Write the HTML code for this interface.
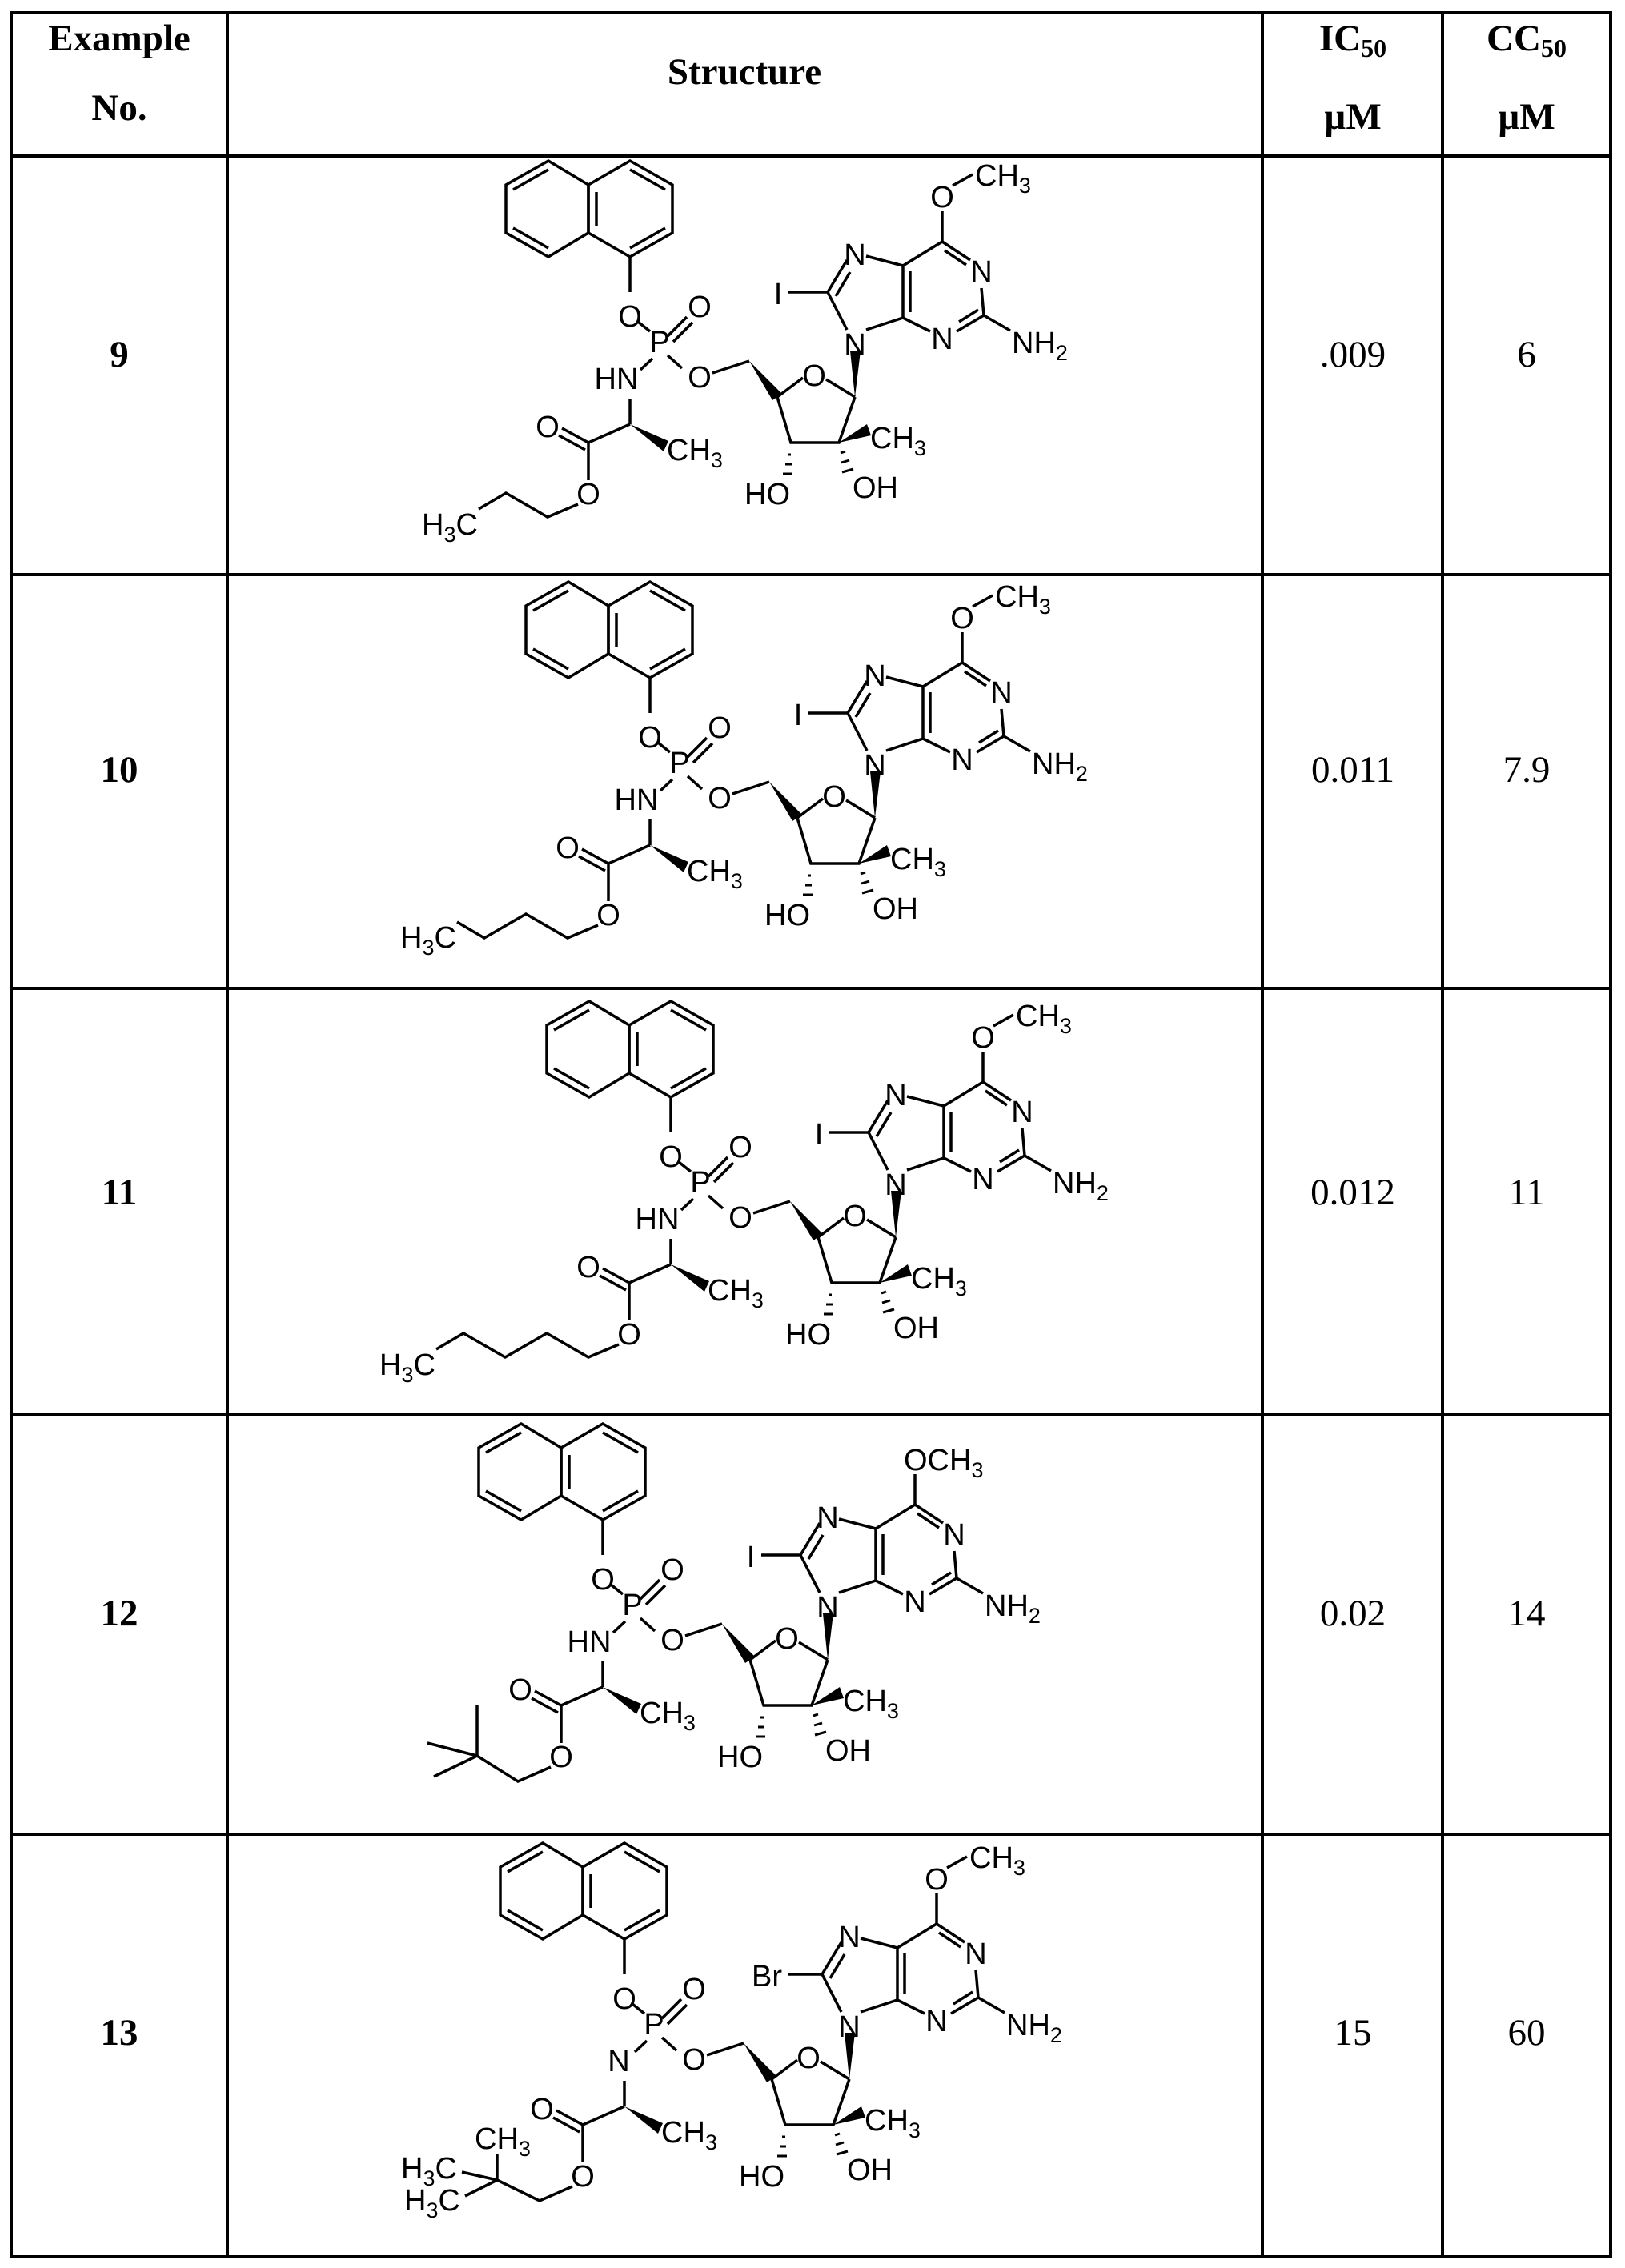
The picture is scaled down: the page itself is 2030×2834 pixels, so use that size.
<!DOCTYPE html>
<html><head><meta charset="utf-8"><style>
html,body{margin:0;padding:0;background:#fff;}
svg{display:block;}
.t{font-family:"Liberation Serif",serif;font-size:47px;text-anchor:middle;fill:#000;}
.b{font-weight:bold;}
.m{font-family:"Liberation Sans",sans-serif;font-size:38px;fill:#000;}
.c{text-anchor:middle;}
.e{text-anchor:end;}
</style></head><body>
<svg width="2030" height="2834" viewBox="0 0 2030 2834" xmlns="http://www.w3.org/2000/svg">
<g stroke="#000" stroke-width="4" fill="none">
<rect x="14" y="16" width="1998" height="2804"/>
<line x1="284" y1="16" x2="284" y2="2820"/><line x1="1577" y1="16" x2="1577" y2="2820"/><line x1="1802" y1="16" x2="1802" y2="2820"/>
<line x1="14" y1="195" x2="2012" y2="195"/><line x1="14" y1="718" x2="2012" y2="718"/><line x1="14" y1="1235" x2="2012" y2="1235"/><line x1="14" y1="1768" x2="2012" y2="1768"/><line x1="14" y1="2292" x2="2012" y2="2292"/>
</g>
<text class="t b" x="149" y="63">Example</text><text class="t b" x="149" y="150">No.</text>
<text class="t b" x="930" y="105">Structure</text>
<text class="t b" x="1690" y="63">IC<tspan font-size="32" dy="8">50</tspan></text><text class="t b" x="1690" y="161">µM</text>
<text class="t b" x="1907" y="63">CC<tspan font-size="32" dy="8">50</tspan></text><text class="t b" x="1907" y="161">µM</text>
<text class="t b" x="149" y="458">9</text><text class="t" x="1690" y="458">.009</text><text class="t" x="1907" y="458">6</text>
<text class="t b" x="149" y="977">10</text><text class="t" x="1690" y="977">0.011</text><text class="t" x="1907" y="977">7.9</text>
<text class="t b" x="149" y="1505">11</text><text class="t" x="1690" y="1505">0.012</text><text class="t" x="1907" y="1505">11</text>
<text class="t b" x="149" y="2031">12</text><text class="t" x="1690" y="2031">0.02</text><text class="t" x="1907" y="2031">14</text>
<text class="t b" x="149" y="2555">13</text><text class="t" x="1690" y="2555">15</text><text class="t" x="1907" y="2555">60</text>

<!-- ROW 9 -->
<g transform="translate(0,0)">
<g stroke="#000" stroke-width="3.5" fill="none">
<polygon points="685,201 735,231 735,291 685,321 632,291 632,231"/><polygon points="787,201 840,231 840,291 787,321 735,291 735,231"/>
<line x1="641" y1="237" x2="685" y2="212"/><line x1="641" y1="285" x2="685" y2="310"/><line x1="745" y1="240" x2="745" y2="282"/><line x1="787" y1="212" x2="831" y2="237"/><line x1="831" y1="285" x2="787" y2="310"/>
<line x1="787" y1="321" x2="787" y2="365"/><line x1="797" y1="402" x2="812" y2="414"/>
<line x1="834" y1="420" x2="858" y2="396"/><line x1="841" y1="427" x2="865" y2="403"/>
<line x1="834" y1="444" x2="852" y2="460"/><line x1="890" y1="466" x2="936" y2="451"/>
<line x1="815" y1="448" x2="800" y2="462"/><line x1="787" y1="498" x2="787" y2="530"/>
<line x1="971" y1="496" x2="1003" y2="472"/><line x1="1032" y1="474" x2="1068" y2="496"/><polyline points="1068,496 1048,553 988,553 971,496"/>
<line x1="1058" y1="412" x2="1034" y2="365"/><line x1="1034" y1="365" x2="1058" y2="325"/><line x1="1044" y1="370" x2="1062" y2="340"/>
<line x1="1082" y1="320" x2="1128" y2="332"/><line x1="1128" y1="332" x2="1128" y2="397"/><line x1="1137" y1="339" x2="1137" y2="390"/><line x1="1128" y1="397" x2="1082" y2="412"/>
<line x1="1128" y1="332" x2="1177" y2="302"/><line x1="1177" y1="302" x2="1177" y2="264"/>
<line x1="1177" y1="302" x2="1212" y2="325"/><line x1="1180" y1="313" x2="1207" y2="331"/><line x1="1226" y1="360" x2="1229" y2="394"/>
<line x1="1229" y1="394" x2="1195" y2="414"/><line x1="1222" y1="387" x2="1198" y2="402"/><line x1="1162" y1="414" x2="1128" y2="397"/><line x1="1229" y1="394" x2="1262" y2="413"/>
<line x1="787" y1="530" x2="735" y2="553"/><line x1="735" y1="553" x2="702" y2="535"/><line x1="731" y1="562" x2="698" y2="544"/><line x1="735" y1="553" x2="735" y2="600"/>
<line x1="988" y1="568" x2="984" y2="568" stroke-width="3"/><line x1="989" y1="580" x2="981" y2="580" stroke-width="3"/><line x1="990" y1="592" x2="978" y2="592" stroke-width="3"/>
<line x1="1050" y1="566" x2="1056" y2="564" stroke-width="3"/><line x1="1051" y1="578" x2="1061" y2="575" stroke-width="3"/><line x1="1052" y1="590" x2="1066" y2="586" stroke-width="3"/>
</g>
<g fill="#000"><polygon points="936,451 977,492 965,500"/><polygon points="1068,496 1062,438 1075,438"/><polygon points="1048,553 1083,530 1088,544"/><polygon points="787,530 835,551 829,564"/></g>
<text class="m c" x="787" y="408">O</text><text class="m c" x="824" y="440">P</text><text class="m c" x="874" y="396">O</text><text class="m c" x="874" y="484">O</text>
<text class="m c" x="1068" y="443">N</text><text class="m c" x="1068" y="331">N</text><text class="m c" x="1226" y="352">N</text><text class="m c" x="1177" y="436">N</text>
<text class="m c" x="1017" y="482">O</text><text class="m" x="1087" y="560">CH<tspan font-size="27" dy="9">3</tspan></text>
<text class="m" x="930" y="630">HO</text><text class="m" x="1065" y="622">OH</text>
<text class="m" x="1264" y="441">NH<tspan font-size="27" dy="9">2</tspan></text>
<text class="m" x="833" y="575">CH<tspan font-size="27" dy="9">3</tspan></text>
<text class="m c" x="684" y="546">O</text><text class="m c" x="735" y="630">O</text>
</g>
<g stroke="#000" stroke-width="3.5" fill="none">
<line x1="1190" y1="232" x2="1215" y2="218"/><line x1="985" y1="365" x2="1034" y2="365"/><polyline points="722,630 684,646 632,616 598,636"/>
</g>
<text class="m c" x="1177" y="259">O</text><text class="m" x="1218" y="232">CH<tspan font-size="27" dy="9">3</tspan></text>
<text class="m c" x="972" y="380">I</text><text class="m c" x="770" y="486">HN</text>
<text class="m" x="527" y="668">H<tspan font-size="27" dy="9">3</tspan><tspan dy="-9">C</tspan></text>

<!-- ROW 10 -->
<g transform="translate(25,526)">
<g stroke="#000" stroke-width="3.5" fill="none">
<polygon points="685,201 735,231 735,291 685,321 632,291 632,231"/><polygon points="787,201 840,231 840,291 787,321 735,291 735,231"/>
<line x1="641" y1="237" x2="685" y2="212"/><line x1="641" y1="285" x2="685" y2="310"/><line x1="745" y1="240" x2="745" y2="282"/><line x1="787" y1="212" x2="831" y2="237"/><line x1="831" y1="285" x2="787" y2="310"/>
<line x1="787" y1="321" x2="787" y2="365"/><line x1="797" y1="402" x2="812" y2="414"/>
<line x1="834" y1="420" x2="858" y2="396"/><line x1="841" y1="427" x2="865" y2="403"/>
<line x1="834" y1="444" x2="852" y2="460"/><line x1="890" y1="466" x2="936" y2="451"/>
<line x1="815" y1="448" x2="800" y2="462"/><line x1="787" y1="498" x2="787" y2="530"/>
<line x1="971" y1="496" x2="1003" y2="472"/><line x1="1032" y1="474" x2="1068" y2="496"/><polyline points="1068,496 1048,553 988,553 971,496"/>
<line x1="1058" y1="412" x2="1034" y2="365"/><line x1="1034" y1="365" x2="1058" y2="325"/><line x1="1044" y1="370" x2="1062" y2="340"/>
<line x1="1082" y1="320" x2="1128" y2="332"/><line x1="1128" y1="332" x2="1128" y2="397"/><line x1="1137" y1="339" x2="1137" y2="390"/><line x1="1128" y1="397" x2="1082" y2="412"/>
<line x1="1128" y1="332" x2="1177" y2="302"/><line x1="1177" y1="302" x2="1177" y2="264"/>
<line x1="1177" y1="302" x2="1212" y2="325"/><line x1="1180" y1="313" x2="1207" y2="331"/><line x1="1226" y1="360" x2="1229" y2="394"/>
<line x1="1229" y1="394" x2="1195" y2="414"/><line x1="1222" y1="387" x2="1198" y2="402"/><line x1="1162" y1="414" x2="1128" y2="397"/><line x1="1229" y1="394" x2="1262" y2="413"/>
<line x1="787" y1="530" x2="735" y2="553"/><line x1="735" y1="553" x2="702" y2="535"/><line x1="731" y1="562" x2="698" y2="544"/><line x1="735" y1="553" x2="735" y2="600"/>
<line x1="988" y1="568" x2="984" y2="568" stroke-width="3"/><line x1="989" y1="580" x2="981" y2="580" stroke-width="3"/><line x1="990" y1="592" x2="978" y2="592" stroke-width="3"/>
<line x1="1050" y1="566" x2="1056" y2="564" stroke-width="3"/><line x1="1051" y1="578" x2="1061" y2="575" stroke-width="3"/><line x1="1052" y1="590" x2="1066" y2="586" stroke-width="3"/>
<line x1="1190" y1="232" x2="1215" y2="218"/><line x1="985" y1="365" x2="1034" y2="365"/><polyline points="722,630 684,646 632,616 580,646 546,626"/>
</g>
<g fill="#000"><polygon points="936,451 977,492 965,500"/><polygon points="1068,496 1062,438 1075,438"/><polygon points="1048,553 1083,530 1088,544"/><polygon points="787,530 835,551 829,564"/></g>
<text class="m c" x="787" y="408">O</text><text class="m c" x="824" y="440">P</text><text class="m c" x="874" y="396">O</text><text class="m c" x="874" y="484">O</text>
<text class="m c" x="1068" y="443">N</text><text class="m c" x="1068" y="331">N</text><text class="m c" x="1226" y="352">N</text><text class="m c" x="1177" y="436">N</text>
<text class="m c" x="1017" y="482">O</text><text class="m" x="1087" y="560">CH<tspan font-size="27" dy="9">3</tspan></text>
<text class="m" x="930" y="630">HO</text><text class="m" x="1065" y="622">OH</text>
<text class="m" x="1264" y="441">NH<tspan font-size="27" dy="9">2</tspan></text>
<text class="m" x="833" y="575">CH<tspan font-size="27" dy="9">3</tspan></text>
<text class="m c" x="684" y="546">O</text><text class="m c" x="735" y="630">O</text>
<text class="m c" x="1177" y="259">O</text><text class="m" x="1218" y="232">CH<tspan font-size="27" dy="9">3</tspan></text>
<text class="m c" x="972" y="380">I</text><text class="m c" x="770" y="486">HN</text>
<text class="m" x="475" y="658">H<tspan font-size="27" dy="9">3</tspan><tspan dy="-9">C</tspan></text>
</g>

<!-- ROW 11 -->
<g transform="translate(51,1050)">
<g stroke="#000" stroke-width="3.5" fill="none">
<polygon points="685,201 735,231 735,291 685,321 632,291 632,231"/><polygon points="787,201 840,231 840,291 787,321 735,291 735,231"/>
<line x1="641" y1="237" x2="685" y2="212"/><line x1="641" y1="285" x2="685" y2="310"/><line x1="745" y1="240" x2="745" y2="282"/><line x1="787" y1="212" x2="831" y2="237"/><line x1="831" y1="285" x2="787" y2="310"/>
<line x1="787" y1="321" x2="787" y2="365"/><line x1="797" y1="402" x2="812" y2="414"/>
<line x1="834" y1="420" x2="858" y2="396"/><line x1="841" y1="427" x2="865" y2="403"/>
<line x1="834" y1="444" x2="852" y2="460"/><line x1="890" y1="466" x2="936" y2="451"/>
<line x1="815" y1="448" x2="800" y2="462"/><line x1="787" y1="498" x2="787" y2="530"/>
<line x1="971" y1="496" x2="1003" y2="472"/><line x1="1032" y1="474" x2="1068" y2="496"/><polyline points="1068,496 1048,553 988,553 971,496"/>
<line x1="1058" y1="412" x2="1034" y2="365"/><line x1="1034" y1="365" x2="1058" y2="325"/><line x1="1044" y1="370" x2="1062" y2="340"/>
<line x1="1082" y1="320" x2="1128" y2="332"/><line x1="1128" y1="332" x2="1128" y2="397"/><line x1="1137" y1="339" x2="1137" y2="390"/><line x1="1128" y1="397" x2="1082" y2="412"/>
<line x1="1128" y1="332" x2="1177" y2="302"/><line x1="1177" y1="302" x2="1177" y2="264"/>
<line x1="1177" y1="302" x2="1212" y2="325"/><line x1="1180" y1="313" x2="1207" y2="331"/><line x1="1226" y1="360" x2="1229" y2="394"/>
<line x1="1229" y1="394" x2="1195" y2="414"/><line x1="1222" y1="387" x2="1198" y2="402"/><line x1="1162" y1="414" x2="1128" y2="397"/><line x1="1229" y1="394" x2="1262" y2="413"/>
<line x1="787" y1="530" x2="735" y2="553"/><line x1="735" y1="553" x2="702" y2="535"/><line x1="731" y1="562" x2="698" y2="544"/><line x1="735" y1="553" x2="735" y2="600"/>
<line x1="988" y1="568" x2="984" y2="568" stroke-width="3"/><line x1="989" y1="580" x2="981" y2="580" stroke-width="3"/><line x1="990" y1="592" x2="978" y2="592" stroke-width="3"/>
<line x1="1050" y1="566" x2="1056" y2="564" stroke-width="3"/><line x1="1051" y1="578" x2="1061" y2="575" stroke-width="3"/><line x1="1052" y1="590" x2="1066" y2="586" stroke-width="3"/>
<line x1="1190" y1="232" x2="1215" y2="218"/><line x1="985" y1="365" x2="1034" y2="365"/><polyline points="722,630 684,646 632,616 580,646 528,616 494,636"/>
</g>
<g fill="#000"><polygon points="936,451 977,492 965,500"/><polygon points="1068,496 1062,438 1075,438"/><polygon points="1048,553 1083,530 1088,544"/><polygon points="787,530 835,551 829,564"/></g>
<text class="m c" x="787" y="408">O</text><text class="m c" x="824" y="440">P</text><text class="m c" x="874" y="396">O</text><text class="m c" x="874" y="484">O</text>
<text class="m c" x="1068" y="443">N</text><text class="m c" x="1068" y="331">N</text><text class="m c" x="1226" y="352">N</text><text class="m c" x="1177" y="436">N</text>
<text class="m c" x="1017" y="482">O</text><text class="m" x="1087" y="560">CH<tspan font-size="27" dy="9">3</tspan></text>
<text class="m" x="930" y="630">HO</text><text class="m" x="1065" y="622">OH</text>
<text class="m" x="1264" y="441">NH<tspan font-size="27" dy="9">2</tspan></text>
<text class="m" x="833" y="575">CH<tspan font-size="27" dy="9">3</tspan></text>
<text class="m c" x="684" y="546">O</text><text class="m c" x="735" y="630">O</text>
<text class="m c" x="1177" y="259">O</text><text class="m" x="1218" y="232">CH<tspan font-size="27" dy="9">3</tspan></text>
<text class="m c" x="972" y="380">I</text><text class="m c" x="770" y="486">HN</text>
<text class="m" x="423" y="668">H<tspan font-size="27" dy="9">3</tspan><tspan dy="-9">C</tspan></text>
</g>

<!-- ROW 12 -->
<g transform="translate(-34,1578)">
<g stroke="#000" stroke-width="3.5" fill="none">
<polygon points="685,201 735,231 735,291 685,321 632,291 632,231"/><polygon points="787,201 840,231 840,291 787,321 735,291 735,231"/>
<line x1="641" y1="237" x2="685" y2="212"/><line x1="641" y1="285" x2="685" y2="310"/><line x1="745" y1="240" x2="745" y2="282"/><line x1="787" y1="212" x2="831" y2="237"/><line x1="831" y1="285" x2="787" y2="310"/>
<line x1="787" y1="321" x2="787" y2="365"/><line x1="797" y1="402" x2="812" y2="414"/>
<line x1="834" y1="420" x2="858" y2="396"/><line x1="841" y1="427" x2="865" y2="403"/>
<line x1="834" y1="444" x2="852" y2="460"/><line x1="890" y1="466" x2="936" y2="451"/>
<line x1="815" y1="448" x2="800" y2="462"/><line x1="787" y1="498" x2="787" y2="530"/>
<line x1="971" y1="496" x2="1003" y2="472"/><line x1="1032" y1="474" x2="1068" y2="496"/><polyline points="1068,496 1048,553 988,553 971,496"/>
<line x1="1058" y1="412" x2="1034" y2="365"/><line x1="1034" y1="365" x2="1058" y2="325"/><line x1="1044" y1="370" x2="1062" y2="340"/>
<line x1="1082" y1="320" x2="1128" y2="332"/><line x1="1128" y1="332" x2="1128" y2="397"/><line x1="1137" y1="339" x2="1137" y2="390"/><line x1="1128" y1="397" x2="1082" y2="412"/>
<line x1="1128" y1="332" x2="1177" y2="302"/><line x1="1177" y1="302" x2="1177" y2="264"/>
<line x1="1177" y1="302" x2="1212" y2="325"/><line x1="1180" y1="313" x2="1207" y2="331"/><line x1="1226" y1="360" x2="1229" y2="394"/>
<line x1="1229" y1="394" x2="1195" y2="414"/><line x1="1222" y1="387" x2="1198" y2="402"/><line x1="1162" y1="414" x2="1128" y2="397"/><line x1="1229" y1="394" x2="1262" y2="413"/>
<line x1="787" y1="530" x2="735" y2="553"/><line x1="735" y1="553" x2="702" y2="535"/><line x1="731" y1="562" x2="698" y2="544"/><line x1="735" y1="553" x2="735" y2="600"/>
<line x1="988" y1="568" x2="984" y2="568" stroke-width="3"/><line x1="989" y1="580" x2="981" y2="580" stroke-width="3"/><line x1="990" y1="592" x2="978" y2="592" stroke-width="3"/>
<line x1="1050" y1="566" x2="1056" y2="564" stroke-width="3"/><line x1="1051" y1="578" x2="1061" y2="575" stroke-width="3"/><line x1="1052" y1="590" x2="1066" y2="586" stroke-width="3"/>
<line x1="985" y1="365" x2="1034" y2="365"/><polyline points="722,630 681,648 630,616"/><line x1="630" y1="616" x2="630" y2="553"/><line x1="630" y1="616" x2="568" y2="600"/><line x1="630" y1="616" x2="576" y2="642"/>
</g>
<g fill="#000"><polygon points="936,451 977,492 965,500"/><polygon points="1068,496 1062,438 1075,438"/><polygon points="1048,553 1083,530 1088,544"/><polygon points="787,530 835,551 829,564"/></g>
<text class="m c" x="787" y="408">O</text><text class="m c" x="824" y="440">P</text><text class="m c" x="874" y="396">O</text><text class="m c" x="874" y="484">O</text>
<text class="m c" x="1068" y="443">N</text><text class="m c" x="1068" y="331">N</text><text class="m c" x="1226" y="352">N</text><text class="m c" x="1177" y="436">N</text>
<text class="m c" x="1017" y="482">O</text><text class="m" x="1087" y="560">CH<tspan font-size="27" dy="9">3</tspan></text>
<text class="m" x="930" y="630">HO</text><text class="m" x="1065" y="622">OH</text>
<text class="m" x="1264" y="441">NH<tspan font-size="27" dy="9">2</tspan></text>
<text class="m" x="833" y="575">CH<tspan font-size="27" dy="9">3</tspan></text>
<text class="m c" x="684" y="546">O</text><text class="m c" x="735" y="630">O</text>
<text class="m" x="1163" y="259">OCH<tspan font-size="27" dy="9">3</tspan></text>
<text class="m c" x="972" y="380">I</text><text class="m c" x="770" y="486">HN</text>
</g>

<!-- ROW 13 -->
<g transform="translate(-7,2102)">
<g stroke="#000" stroke-width="3.5" fill="none">
<polygon points="685,201 735,231 735,291 685,321 632,291 632,231"/><polygon points="787,201 840,231 840,291 787,321 735,291 735,231"/>
<line x1="641" y1="237" x2="685" y2="212"/><line x1="641" y1="285" x2="685" y2="310"/><line x1="745" y1="240" x2="745" y2="282"/><line x1="787" y1="212" x2="831" y2="237"/><line x1="831" y1="285" x2="787" y2="310"/>
<line x1="787" y1="321" x2="787" y2="365"/><line x1="797" y1="402" x2="812" y2="414"/>
<line x1="834" y1="420" x2="858" y2="396"/><line x1="841" y1="427" x2="865" y2="403"/>
<line x1="834" y1="444" x2="852" y2="460"/><line x1="890" y1="466" x2="936" y2="451"/>
<line x1="815" y1="448" x2="800" y2="462"/><line x1="787" y1="498" x2="787" y2="530"/>
<line x1="971" y1="496" x2="1003" y2="472"/><line x1="1032" y1="474" x2="1068" y2="496"/><polyline points="1068,496 1048,553 988,553 971,496"/>
<line x1="1058" y1="412" x2="1034" y2="365"/><line x1="1034" y1="365" x2="1058" y2="325"/><line x1="1044" y1="370" x2="1062" y2="340"/>
<line x1="1082" y1="320" x2="1128" y2="332"/><line x1="1128" y1="332" x2="1128" y2="397"/><line x1="1137" y1="339" x2="1137" y2="390"/><line x1="1128" y1="397" x2="1082" y2="412"/>
<line x1="1128" y1="332" x2="1177" y2="302"/><line x1="1177" y1="302" x2="1177" y2="264"/>
<line x1="1177" y1="302" x2="1212" y2="325"/><line x1="1180" y1="313" x2="1207" y2="331"/><line x1="1226" y1="360" x2="1229" y2="394"/>
<line x1="1229" y1="394" x2="1195" y2="414"/><line x1="1222" y1="387" x2="1198" y2="402"/><line x1="1162" y1="414" x2="1128" y2="397"/><line x1="1229" y1="394" x2="1262" y2="413"/>
<line x1="787" y1="530" x2="735" y2="553"/><line x1="735" y1="553" x2="702" y2="535"/><line x1="731" y1="562" x2="698" y2="544"/><line x1="735" y1="553" x2="735" y2="600"/>
<line x1="988" y1="568" x2="984" y2="568" stroke-width="3"/><line x1="989" y1="580" x2="981" y2="580" stroke-width="3"/><line x1="990" y1="592" x2="978" y2="592" stroke-width="3"/>
<line x1="1050" y1="566" x2="1056" y2="564" stroke-width="3"/><line x1="1051" y1="578" x2="1061" y2="575" stroke-width="3"/><line x1="1052" y1="590" x2="1066" y2="586" stroke-width="3"/>
<line x1="1190" y1="232" x2="1215" y2="218"/><line x1="992" y1="365" x2="1034" y2="365"/><polyline points="722,630 681,648 628,622"/><line x1="628" y1="622" x2="628" y2="590"/><line x1="628" y1="622" x2="584" y2="612"/><line x1="628" y1="622" x2="588" y2="642"/>
</g>
<g fill="#000"><polygon points="936,451 977,492 965,500"/><polygon points="1068,496 1062,438 1075,438"/><polygon points="1048,553 1083,530 1088,544"/><polygon points="787,530 835,551 829,564"/></g>
<text class="m c" x="787" y="408">O</text><text class="m c" x="824" y="440">P</text><text class="m c" x="874" y="396">O</text><text class="m c" x="874" y="484">O</text>
<text class="m c" x="1068" y="443">N</text><text class="m c" x="1068" y="331">N</text><text class="m c" x="1226" y="352">N</text><text class="m c" x="1177" y="436">N</text>
<text class="m c" x="1017" y="482">O</text><text class="m" x="1087" y="560">CH<tspan font-size="27" dy="9">3</tspan></text>
<text class="m" x="930" y="630">HO</text><text class="m" x="1065" y="622">OH</text>
<text class="m" x="1264" y="441">NH<tspan font-size="27" dy="9">2</tspan></text>
<text class="m" x="833" y="575">CH<tspan font-size="27" dy="9">3</tspan></text>
<text class="m c" x="684" y="546">O</text><text class="m c" x="735" y="630">O</text>
<text class="m c" x="1177" y="259">O</text><text class="m" x="1218" y="232">CH<tspan font-size="27" dy="9">3</tspan></text>
<text class="m c" x="965" y="380">Br</text><text class="m c" x="780" y="486">N</text>
<text class="m" x="600" y="583">CH<tspan font-size="27" dy="9">3</tspan></text>
<text class="m" x="508" y="620">H<tspan font-size="27" dy="9">3</tspan><tspan dy="-9">C</tspan></text>
<text class="m" x="512" y="660">H<tspan font-size="27" dy="9">3</tspan><tspan dy="-9">C</tspan></text>
</g>
</svg>
</body></html>
